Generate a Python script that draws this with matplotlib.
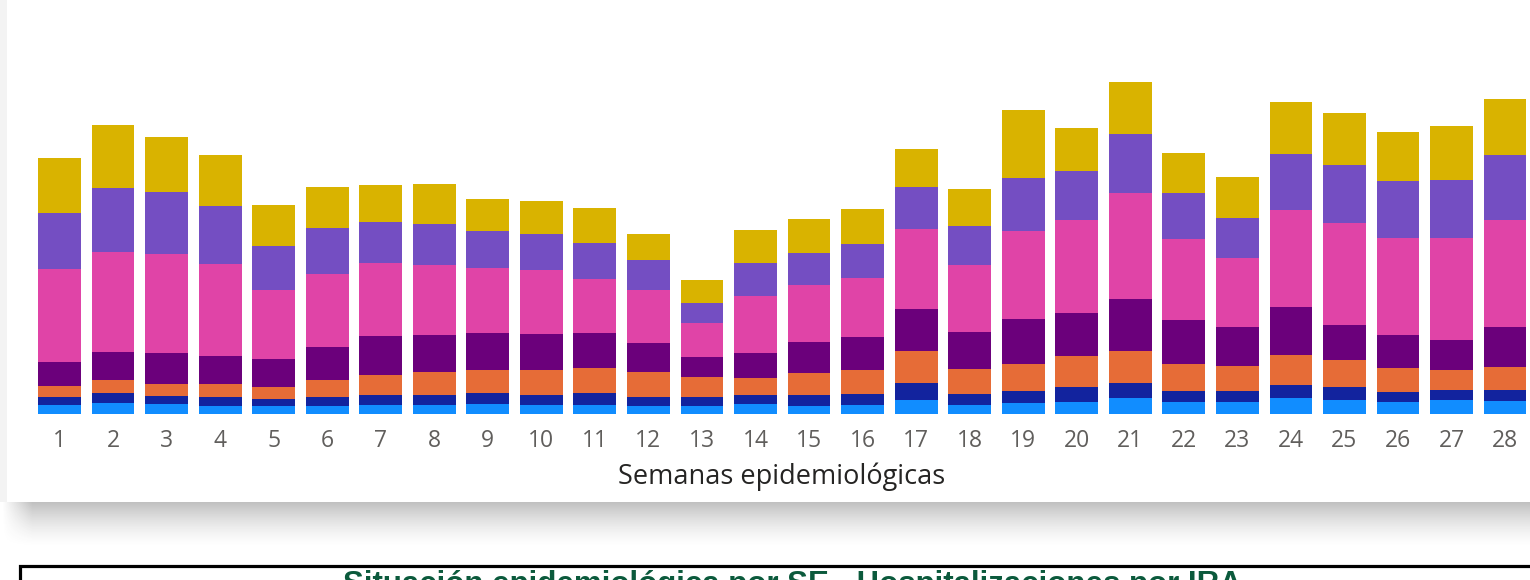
import numpy as np
import matplotlib
matplotlib.use('Agg')
import matplotlib.pyplot as plt
from matplotlib.patches import Rectangle

# ---------------- data ----------------
semanas = [str(i) for i in range(1, 29)]
s_celeste = [9, 11, 10, 8, 8, 8, 9, 9, 10, 9, 9, 8, 8, 10, 8, 9, 14, 9, 11, 12, 16, 12, 12, 16, 14, 12, 14, 13]
s_azul = [8, 10, 8, 9, 7, 9, 10, 10, 11, 10, 12, 9, 9, 9, 11, 11, 17, 11, 12, 15, 15, 11, 11, 13, 13, 10, 10, 11]
s_naranja = [11, 13, 12, 13, 12, 17, 20, 23, 23, 25, 25, 25, 20, 17, 22, 24, 32, 25, 27, 31, 32, 27, 25, 30, 27, 24, 20, 23]
s_morado = [24, 28, 31, 28, 28, 33, 39, 37, 37, 36, 35, 29, 20, 25, 31, 33, 42, 37, 45, 43, 52, 44, 39, 48, 35, 33, 30, 40]
s_rosa = [93, 100, 99, 92, 69, 73, 73, 70, 65, 64, 54, 53, 34, 57, 57, 59, 80, 67, 88, 93, 106, 81, 69, 97, 102, 97, 102, 107]
s_lila = [56, 64, 62, 58, 44, 46, 41, 41, 37, 36, 36, 30, 20, 33, 32, 34, 42, 39, 53, 49, 59, 46, 40, 56, 58, 57, 58, 65]
s_oro = [55, 63, 55, 51, 41, 41, 37, 40, 32, 33, 35, 26, 23, 33, 34, 35, 38, 37, 68, 43, 52, 40, 41, 52, 52, 49, 54, 56]

series = [s_celeste, s_azul, s_naranja, s_morado, s_rosa, s_lila, s_oro]
colores = ['#118DFF', '#12239E', '#E66C37', '#6B007B', '#E044A7', '#744EC2', '#D9B300']

titulo_inferior = 'Situación epidemiológica por SE - Hospitalizaciones por IRA'
etiqueta_x = 'Semanas epidemiológicas'

# ---------------- figure ----------------
W, H = 1530, 580
fig = plt.figure(figsize=(W / 100, H / 100), dpi=100)
fig.patch.set_facecolor('white')

# background / card layer in pixel coordinates
bg = fig.add_axes([0, 0, 1, 1], zorder=0)
bg.set_xlim(0, W)
bg.set_ylim(H, 0)
bg.axis('off')

# soft shadow below the card
sh_h = 46
grad = np.linspace(0, 1, sh_h)
alpha_v = (1 - grad) ** 1.5 * 0.36
xs = np.arange(0, W)
alpha_h = np.clip((xs - 2) / 30.0, 0, 1)
alpha = alpha_v[:, None] * alpha_h[None, :]
img = np.zeros((sh_h, W, 4))
img[..., :3] = 0.22
img[..., 3] = alpha
bg.imshow(img, extent=[0, W, 502 + sh_h, 498], aspect='auto', interpolation='bilinear', zorder=1)

# left shadow strip
bg.add_patch(Rectangle((0, 0), 7, 502, facecolor='#f3f3f3', edgecolor='none', zorder=1))
# white card
bg.add_patch(Rectangle((7, 0), W - 7, 502, facecolor='white', edgecolor='none', zorder=2))

# lower bordered box
bg.add_patch(Rectangle((20.5, 566), W, 40, facecolor='white', edgecolor='black', linewidth=2.3, zorder=2))
bg.text(792, 569.5, titulo_inferior, ha='center', va='top', fontsize=22.5, fontweight='bold',
        color='#0b5a3c', family='Liberation Sans', zorder=3)

# ---------------- main chart ----------------
base_px = 414
step = 53.54
x0_px = 59.5 - 0.5 * step
ax = fig.add_axes([x0_px / W, (H - base_px) / H, (28 * step) / W, base_px / H], zorder=2)
ax.patch.set_alpha(0)

x = np.arange(1, len(semanas) + 1)
bottom = np.zeros(len(semanas))
for vals, col in zip(series, colores):
    ax.bar(x, vals, width=0.80, bottom=bottom, color=col, linewidth=0)
    bottom += np.array(vals)

ax.set_xlim(0.5, 28.5)
ax.set_ylim(0, base_px)
for s in ax.spines.values():
    s.set_visible(False)
ax.set_yticks([])
ax.set_xticks(x)
ax.set_xticklabels(semanas, fontsize=16.5, color='#605E5C', family='Open Sans')
ax.tick_params(axis='x', length=0, pad=10.5)

fig.text(782 / W, (H - 477) / H, etiqueta_x, ha='center', va='center', fontsize=19.5,
         color='#252423', family='Open Sans')

fig.savefig('out.png', dpi=100)
